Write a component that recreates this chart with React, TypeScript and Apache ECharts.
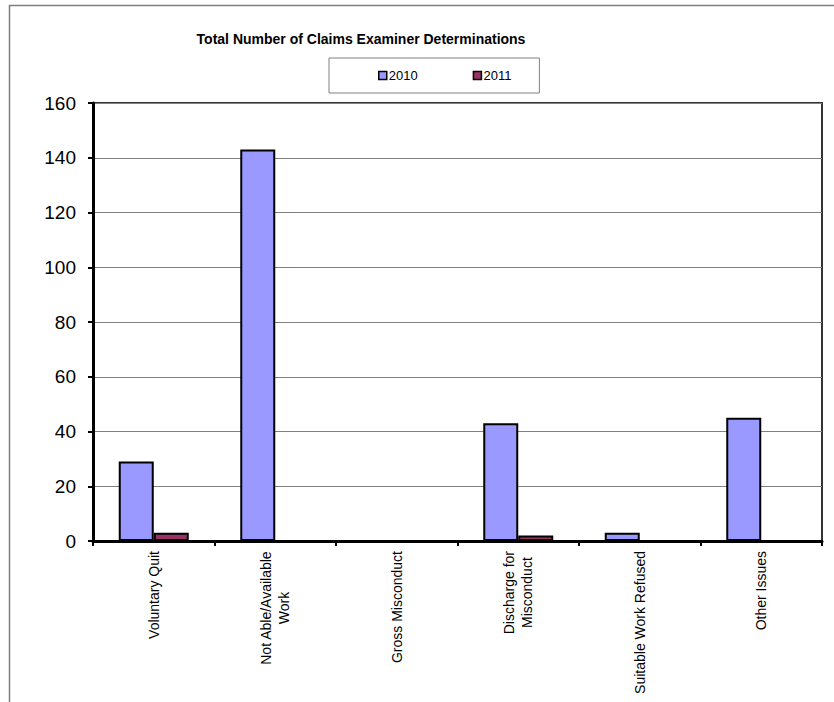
import React, { useEffect, useRef } from "react";
import * as echarts from "echarts";

const categories = [
  "Voluntary Quit",
  "Not Able/Available\nWork",
  "Gross Misconduct",
  "Discharge for\nMisconduct",
  "Suitable Work Refused",
  "Other Issues",
];
const values2010 = [29, 143, 0, 43, 3, 45];
const values2011 = [3, 0, 0, 2, 0, 0];
const seriesNames = ["2010", "2011"];
const titleText = "Total Number of Claims Examiner Determinations";

const FONT = "'Liberation Sans Narrow', 'Arial Narrow', 'Liberation Sans', Arial, sans-serif";

export default function App() {
  const ref = useRef<HTMLDivElement>(null);
  useEffect(() => {
    document.body.style.margin = "0";
    const chart = echarts.init(ref.current!, undefined, { renderer: "svg" });
    chart.setOption({
      animation: false,
      backgroundColor: "#fff",
      textStyle: { fontFamily: FONT },
      title: {
        text: titleText,
        left: 356,
        top: 27,
        textAlign: "center",
        textStyle: { fontFamily: FONT, fontSize: 14, fontWeight: "bold", color: "#000" },
      },
      legend: {
        left: 329,
        top: 58,
        data: seriesNames,
        orient: "horizontal",
        icon: "rect",
        itemWidth: 8,
        itemHeight: 8,
        itemGap: 55,
        padding: [11, 28, 11, 49],
        borderColor: "#808080",
        borderWidth: 1,
        textStyle: { fontFamily: FONT, fontSize: 13, color: "#000", padding: [0, 0, 0, -3] },
        itemStyle: { borderColor: "#000", borderWidth: 1.5 },
      },
      graphic: [
        { type: "line", shape: { x1: 9, y1: 5.5, x2: 834, y2: 5.5 }, style: { stroke: "#808080", lineWidth: 1.5 } },
        { type: "line", shape: { x1: 9.5, y1: 5, x2: 9.5, y2: 702 }, style: { stroke: "#808080", lineWidth: 1.5 } },
      ],
      grid: {
        left: 93,
        top: 103,
        right: 12,
        bottom: 161,
        show: true,
        borderColor: "#333",
        borderWidth: 2,
      },
      xAxis: {
        type: "category",
        data: categories,
        axisLine: { show: true, lineStyle: { color: "#000", width: 3 } },
        axisTick: { show: true, length: 5, lineStyle: { color: "#000", width: 2 } },
        axisLabel: {
          rotate: 90,
          margin: 10,
          interval: 0,
          color: "#000",
          fontFamily: FONT,
          fontSize: 14,
          formatter: (v: string) => v.split("\n").map((s) => `{a|${s}}`).join("\n"),
          rich: { a: { align: "center", fontFamily: FONT, fontSize: 14, lineHeight: 18, color: "#000" } },
        },
      },
      yAxis: {
        type: "value",
        min: 0,
        max: 160,
        interval: 20,
        axisLine: { show: true, lineStyle: { color: "#000", width: 3 } },
        axisTick: { show: true, length: 5, lineStyle: { color: "#000", width: 2 } },
        axisLabel: { margin: 17, color: "#000", fontFamily: FONT, fontSize: 19 },
        splitLine: { show: true, lineStyle: { color: "#808080", width: 1 } },
      },
      series: [
        {
          name: seriesNames[0],
          type: "bar",
          data: values2010,
          barWidth: 35,
          barGap: "0%",
          itemStyle: { color: "#9999FF", borderColor: "#000", borderWidth: 2 },
        },
        {
          name: seriesNames[1],
          type: "bar",
          data: values2011,
          barWidth: 35,
          barGap: "0%",
          itemStyle: { color: "#993366", borderColor: "#000", borderWidth: 2 },
        },
      ],
    });
    return () => chart.dispose();
  }, []);
  return <div ref={ref} style={{ width: 834, height: 702 }} />;
}
